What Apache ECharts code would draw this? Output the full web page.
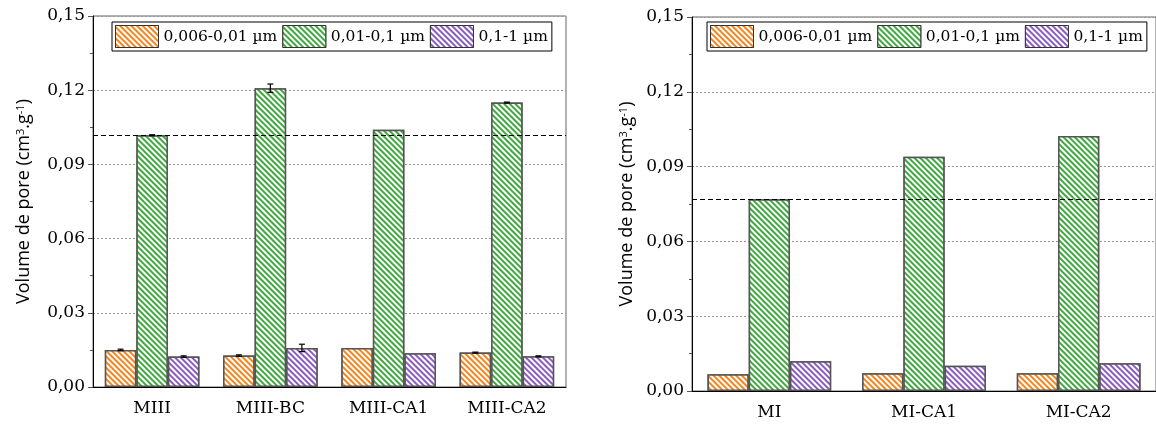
<!DOCTYPE html>
<html>
<head>
<meta charset="utf-8">
<script src="https://cdn.jsdelivr.net/npm/echarts@6/dist/echarts.min.js"></script>
<style>html,body{margin:0;padding:0;background:#fff}#c{width:1156px;height:424px}</style>
</head>
<body>
<div id="c"></div>
<script>
// ---- data ----
const seriesNames = ['0,006-0,01 µm', '0,01-0,1 µm', '0,1-1 µm'];
const catsLeft = ['MIII', 'MIII-BC', 'MIII-CA1', 'MIII-CA2'];
const leftSmall = [0.0150, 0.0127, 0.0158, 0.0139];
const leftMid = [0.1018, 0.1208, 0.1040, 0.1150];
const leftLarge = [0.0123, 0.0158, 0.0136, 0.0124];
const leftSmallErr = [0.0003, 0.0003, 0, 0.0002];
const leftMidErr = [0.0002, 0.0017, 0, 0.0002];
const leftLargeErr = [0.0003, 0.0015, 0, 0.0002];
const leftRef = 0.1017;

const catsRight = ['MI', 'MI-CA1', 'MI-CA2'];
const rightSmall = [0.0067, 0.0071, 0.0071];
const rightMid = [0.0769, 0.0940, 0.1023];
const rightLarge = [0.0119, 0.0101, 0.0111];
const rightRef = 0.0770;

const yTicks = {min: 0, max: 0.15, interval: 0.03};

// ---- styles ----
const colors = ['#f7841c', '#3fa83f', '#8a5cc2'];
const serif = 'DejaVu Serif';

function decal(c) {
  return {symbol: 'rect', symbolSize: 1, dashArrayX: [1, 0], dashArrayY: [1.3, 1.1],
          rotation: Math.PI / 4, color: c, backgroundColor: '#ffffff'};
}

function barSeries(name, data, idx, gi, refVal) {
  const s = {
    name: name, type: 'bar', xAxisIndex: gi * 2, yAxisIndex: gi, data: data,
    barGap: '0%', barCategoryGap: '20%',
    itemStyle: {color: '#ffffff', borderColor: '#555', borderWidth: 1.5, decal: decal(colors[idx])},
    emphasis: {disabled: true}
  };
  if (refVal !== undefined) {
    s.markLine = {silent: true, symbol: 'none', precision: 5, label: {show: false},
      lineStyle: {color: '#000', type: [5, 3], width: 1},
      data: [{yAxis: refVal}]};
  }
  return s;
}

function errSeries(gi, vals, errs) {
  const data = [];
  vals.forEach((arr, si) => arr.forEach((v, ci) => {
    if (errs[si][ci] > 0) data.push([ci, si, v, errs[si][ci]]);
  }));
  return {
    type: 'custom', xAxisIndex: gi * 2, yAxisIndex: gi, z: 5, silent: true,
    data: data,
    renderItem: function (params, api) {
      const ci = api.value(0), si = api.value(1), v = api.value(2), e = api.value(3);
      const band = api.size([1, 0])[0];
      const bw = band * 0.8 / 3;
      const c = api.coord([ci, v]);
      const x = c[0] + (si - 1) * bw;
      const t = api.coord([ci, v + e])[1];
      const b = api.coord([ci, v - e])[1];
      const st = {stroke: '#000', lineWidth: 1.2};
      return {type: 'group', children: [
        {type: 'line', shape: {x1: x, y1: t, x2: x, y2: b}, style: st},
        {type: 'line', shape: {x1: x - 3, y1: t, x2: x + 3, y2: t}, style: st},
        {type: 'line', shape: {x1: x - 3, y1: b, x2: x + 3, y2: b}, style: st}
      ]};
    }
  };
}

function xAxes(gi, cats) {
  return [
    {type: 'category', gridIndex: gi, data: cats,
     axisLine: {lineStyle: {color: '#000', width: 1}},
     axisTick: {alignWithLabel: true, length: 5, lineStyle: {color: '#555'}},
     axisLabel: {color: '#000', fontFamily: serif, fontSize: 17, margin: 13}},
    {type: 'category', gridIndex: gi, data: cats, position: 'bottom',
     axisLine: {show: false}, axisLabel: {show: false},
     axisTick: {length: 3, lineStyle: {color: '#555'}}}
  ];
}

function yAxis(gi, nameGap) {
  return {
    type: 'value', gridIndex: gi, min: yTicks.min, max: yTicks.max, interval: yTicks.interval,
    name: 'Volume de pore (cm{sup|3}.g{sup|-1})', nameLocation: 'middle', nameGap: nameGap,
    nameTextStyle: {color: '#000', fontFamily: 'Open Sans', fontSize: 18,
      rich: {sup: {fontSize: 11, fontFamily: 'Open Sans', verticalAlign: 'top', lineHeight: 11, padding: [0, 0, 10, 0]}}},
    axisLine: {show: true, lineStyle: {color: '#000', width: 1}},
    axisTick: {show: true, length: 5, lineStyle: {color: '#555'}},
    minorTick: {show: true, splitNumber: 2, length: 3, lineStyle: {color: '#555'}},
    axisLabel: {color: '#000', fontFamily: serif, fontSize: 17, margin: 8,
      formatter: v => v.toFixed(2).replace('.', ',')},
    splitLine: {show: true, lineStyle: {color: '#999', type: [2, 2], width: 1}}
  };
}

function legend(left, top) {
  return {
    left: left, top: top, orient: 'horizontal', data: seriesNames, icon: 'rect',
    itemWidth: 43, itemHeight: 22, itemGap: 5,
    borderColor: '#000', borderWidth: 1, padding: [3, 4, 3, 3],
    textStyle: {color: '#000', fontFamily: serif, fontSize: 15.5},
    itemStyle: {borderColor: '#333', borderWidth: 1},
    selectedMode: false
  };
}

const chart = echarts.init(document.getElementById('c'), null, {renderer: 'canvas'});
chart.setOption({
  animation: false,
  backgroundColor: '#fff',
  grid: [
    {left: 93, top: 16, width: 473, height: 371, show: true, borderColor: '#666', borderWidth: 1, backgroundColor: 'transparent'},
    {left: 692, top: 17, width: 468, height: 374, show: true, borderColor: '#666', borderWidth: 1, backgroundColor: 'transparent'}
  ],
  legend: [legend(112, 22), legend(707, 22)],
  xAxis: xAxes(0, catsLeft).concat(xAxes(1, catsRight)),
  yAxis: [yAxis(0, 60), yAxis(1, 56)],
  series: [
    barSeries(seriesNames[0], leftSmall, 0, 0),
    barSeries(seriesNames[1], leftMid, 1, 0, leftRef),
    barSeries(seriesNames[2], leftLarge, 2, 0),
    errSeries(0, [leftSmall, leftMid, leftLarge], [leftSmallErr, leftMidErr, leftLargeErr]),
    barSeries(seriesNames[0], rightSmall, 0, 1),
    barSeries(seriesNames[1], rightMid, 1, 1, rightRef),
    barSeries(seriesNames[2], rightLarge, 2, 1)
  ]
});
</script>
</body>
</html>
